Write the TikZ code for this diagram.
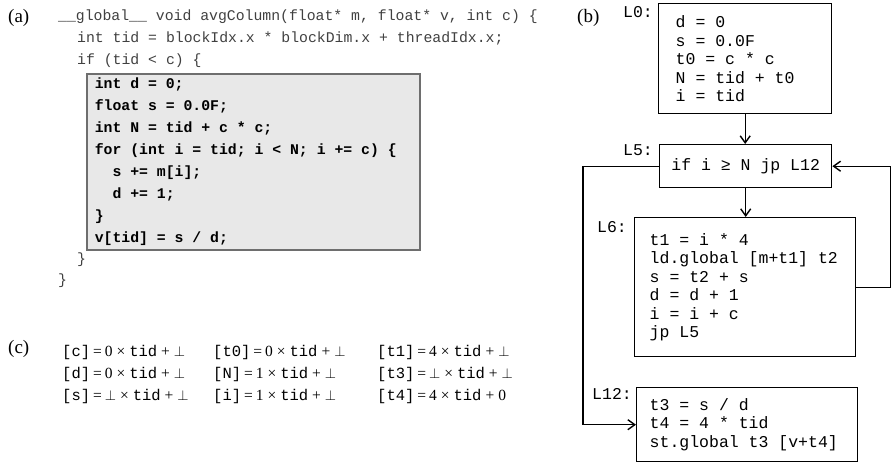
\documentclass[tikz,border=0pt]{standalone}
\usepackage{fontspec}
\setmainfont{Liberation Serif}
\setmonofont{Liberation Mono}
\usetikzlibrary{arrows.meta}
\definecolor{boxgray}{HTML}{E8E8E8}
\definecolor{boxedge}{HTML}{6E6E6E}
\newcommand\fixsp{\spaceskip=0pt\xspaceskip=0pt\relax}
\newcommand\cent[3]{{\ttfamily[#1]}\hspace{3pt}=\hspace{3pt}#2\hspace{4pt}×\hspace{4pt}{\ttfamily tid}\hspace{4pt}+\hspace{4pt}#3}
\begin{document}
\begin{tikzpicture}[x=1pt,y=-1pt,
  lbl/.style={font=\fontsize{19}{21}\selectfont, inner sep=0pt, anchor=base west},
  codeln/.style={font=\fontsize{14.8}{22}\selectfont\ttfamily, text=black!75, inner sep=0pt, anchor=base west},
  gbox/.style={draw=boxedge, fill=boxgray, line width=1.5pt, anchor=north west, inner ysep=0pt,
    font=\fontsize{14.8}{22}\selectfont\ttfamily\bfseries, align=left},
  cfgbox/.style={draw, line width=1.4pt, anchor=north west, inner ysep=0pt,
    font=\fontsize{16.5}{18.5}\selectfont\ttfamily, align=left},
  cfglbl/.style={font=\fontsize{16.5}{18.5}\selectfont\ttfamily, inner sep=0pt, anchor=base east},
  cell/.style={font=\fontsize{15.5}{18}\selectfont, inner sep=0pt, anchor=base west},
  arr/.style={line width=1.4pt, -{Straight Barb[length=7pt,width=10pt,line width=1.4pt]}}]
\useasboundingbox (0,0) rectangle (891,466);

% (a)
\node[lbl] (la) at (8,22) {(a)};
\node[codeln] (a1) at (58,20.5) {\_\_global\_\_ void avgColumn(float* m, float* v, int c) \{};
\node[codeln] (a2) at (77,42.5) {int tid = blockIdx.x * blockDim.x + threadIdx.x;};
\node[codeln] (a3) at (77,64.5) {if (tid < c) \{};
\node[gbox, minimum width=333, minimum height=176, text width=317, inner xsep=8] (body) at (86,73)
  {\fixsp int d = 0;\\ float s = 0.0F;\\ int N = tid + c * c;\\ for (int i = tid; i < N; i += c) \{\\
   \phantom{xx}s += m[i];\\ \phantom{xx}d += 1;\\ \}\\ v[tid] = s / d;};
\node[codeln] (a4) at (77,263.5) {\}};
\node[codeln] (a5) at (58,284.5) {\}};

% (c)
\node[lbl] (lc) at (8,353) {(c)};
\node[cell] (c11) at (62,356) {\cent{c}{0}{$\perp$}};
\node[cell] (c21) at (62,378) {\cent{d}{0}{$\perp$}};
\node[cell] (c31) at (62,400) {\cent{s}{$\perp$}{$\perp$}};
\node[cell] (c12) at (213,356) {\cent{t0}{0}{$\perp$}};
\node[cell] (c22) at (213,378) {\cent{N}{1}{$\perp$}};
\node[cell] (c32) at (213,400) {\cent{i}{1}{$\perp$}};
\node[cell] (c13) at (377,356) {\cent{t1}{4}{$\perp$}};
\node[cell] (c23) at (377,378) {\cent{t3}{$\perp$}{$\perp$}};
\node[cell] (c33) at (377,400) {\cent{t4}{4}{0}};

% (b)
\node[lbl] (lb) at (577,22) {(b)};
\node[cfgbox, minimum width=173, minimum height=110, text width=139, inner xsep=17] (L0) at (658,3)
  {\fixsp d = 0\\ s = 0.0F\\ t0 = c * c\\ N = tid + t0\\ i = tid};
\node[cfgbox, minimum width=172, minimum height=43, inner xsep=0pt, align=center] (L5) at (659,144)
  {\fixsp if i ≥ N jp L12};
\node[cfgbox, minimum width=221, minimum height=139, text width=191, inner xsep=15] (L6) at (634,217)
  {\fixsp t1 = i * 4\\ ld.global [m+t1] t2\\ s = t2 + s\\ d = d + 1\\ i = i + c\\ jp L5};
\node[cfgbox, minimum width=221, minimum height=74, text width=195, inner xsep=13] (L12) at (636,387)
  {\fixsp t3 = s / d\\ t4 = 4 * tid\\ st.global t3 [v+t4]};

\node[cfglbl] (n0) at (653,17) {L0:};
\node[cfglbl] (n5) at (653,155) {L5:};
\node[cfglbl] (n6) at (627,232) {L6:};
\node[cfglbl] (n12) at (632,399) {L12:};

\draw[arr] (L0.south) -- (L0.south |- L5.north);
\draw[arr] (L5.south) -- (L5.south |- L6.north);
\draw[arr] (L5.west) -- ++(-76,0) |- (L12.west);
\draw[arr] (L6.east) -- ++(34,0) |- (L5.east);
\end{tikzpicture}
\end{document}
